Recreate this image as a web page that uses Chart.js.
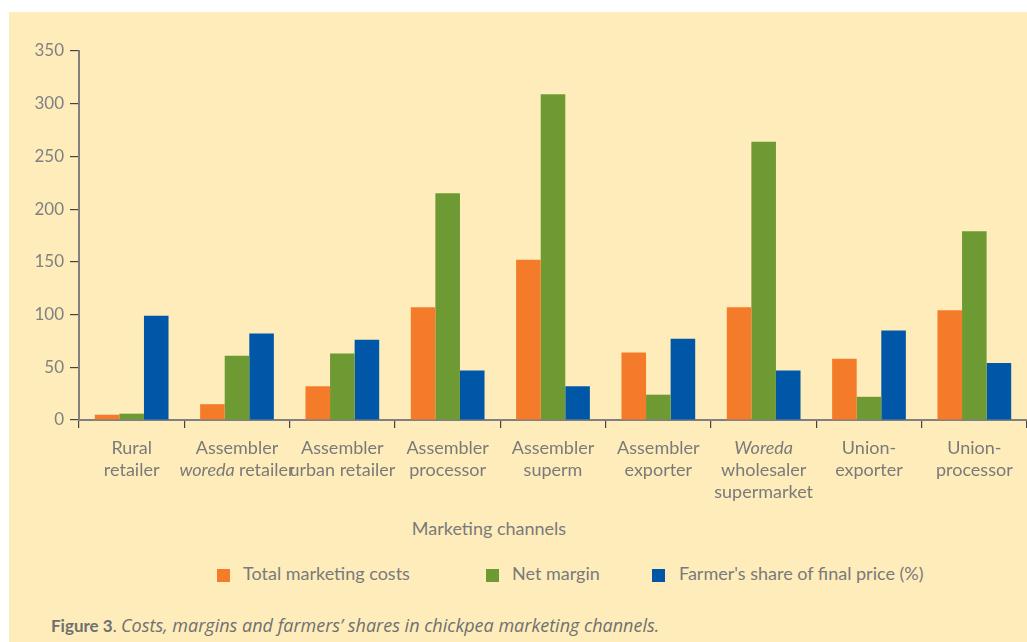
<!DOCTYPE html>
<html>
<head>
<meta charset="utf-8">
<script src="https://cdn.jsdelivr.net/npm/chart.js@4.4.1/dist/chart.umd.min.js"></script>
<style>
  html, body { margin: 0; padding: 0; background: #ffffff; }
  body { width: 1027px; height: 642px; position: relative; overflow: hidden; font-family: Lato, "Open Sans", sans-serif; }
  #wrap { position: absolute; left: 9px; top: 12px; width: 1018px; height: 630px; background: #FEEDBA; }
  #chart { position: absolute; left: 0; top: 0; }
  #xtitle { position: absolute; left: 0; width: 960px; top: 504px; text-align: center; font-size: 18px; color: #7a7a7a; line-height: 24px; }
  .lg { position: absolute; top: 549px; font-size: 18px; color: #7a7a7a; line-height: 24px; white-space: nowrap; }
  .sw { position: absolute; top: 557px; width: 13px; height: 13px; }
  #caption { position: absolute; left: 42px; top: 601px; font-size: 17px; color: #707070; line-height: 24px; white-space: nowrap; }
  #caption b { font-weight: bold; font-family: Lato, sans-serif; }
  #caption i { font-style: italic; font-family: "Open Sans", sans-serif; font-size: 18px; }
</style>
</head>
<body>
<div id="wrap">
  <canvas id="chart" width="1018" height="500"></canvas>
  <div id="xtitle">Marketing channels</div>
  <div class="sw" style="left:208px;background:#F47B2A"></div>
  <div class="lg" style="left:234px">Total marketing costs</div>
  <div class="sw" style="left:477px;background:#6E9A33"></div>
  <div class="lg" style="left:503px">Net margin</div>
  <div class="sw" style="left:643px;background:#0057A8"></div>
  <div class="lg" style="left:670px">Farmer's share of final price (%)</div>
  <div id="caption"><b>Figure 3</b>. <i>Costs, margins and farmers’ shares in chickpea marketing channels.</i></div>
</div>
<script>
// ---- data ----
const categories = [
  ["Rural", "retailer"],
  ["Assembler", "woreda retailer"],
  ["Assembler", "urban retailer"],
  ["Assembler", "processor"],
  ["Assembler", "superm"],
  ["Assembler", "exporter"],
  ["Woreda", "wholesaler", "supermarket"],
  ["Union-", "exporter"],
  ["Union-", "processor"]
];
const italicWords = ["woreda", "Woreda"];
const seriesNames = ["Total marketing costs", "Net margin", "Farmer's share of final price (%)"];
const totalMarketingCosts = [5, 15, 32, 107, 152, 64, 107, 58, 104];
const netMargin = [6, 61, 63, 215, 309, 24, 264, 22, 179];
const farmersShare = [99, 82, 76, 47, 32, 77, 47, 85, 54];
const yTicks = [0, 50, 100, 150, 200, 250, 300, 350];

const FONT = 'Lato, "Open Sans", sans-serif';
const LABEL_COLOR = '#7a7a7a';
const LABEL_SIZE = 18;

const labelPlugin = {
  id: 'richXLabels',
  afterDraw(chart) {
    const xs = chart.scales.x;
    const ctx = chart.ctx;
    ctx.save();
    ctx.fillStyle = LABEL_COLOR;
    ctx.textBaseline = 'middle';
    ctx.textAlign = 'left';
    categories.forEach((lines, i) => {
      const cx = xs.getPixelForValue(i);
      lines.forEach((line, j) => {
        const words = line.split(' ');
        const parts = words.map((w, k) => {
          const txt = (k < words.length - 1) ? w + ' ' : w;
          const it = italicWords.includes(w);
          ctx.font = (it ? 'italic ' : '') + LABEL_SIZE + 'px ' + FONT;
          return { txt, it, w: ctx.measureText(txt).width };
        });
        const total = parts.reduce((a, p) => a + p.w, 0);
        let x = cx - total / 2;
        const y = xs.top + 28 + j * 22;
        parts.forEach(p => {
          ctx.font = (p.it ? 'italic ' : '') + LABEL_SIZE + 'px ' + FONT;
          ctx.fillText(p.txt, x, y);
          x += p.w;
        });
      });
    });
    ctx.restore();
  }
};

new Chart(document.getElementById('chart'), {
  type: 'bar',
  data: {
    labels: categories,
    datasets: [
      { label: seriesNames[0], data: totalMarketingCosts, backgroundColor: '#F47B2A' },
      { label: seriesNames[1], data: netMargin, backgroundColor: '#6E9A33' },
      { label: seriesNames[2], data: farmersShare, backgroundColor: '#0057A8' }
    ]
  },
  options: {
    responsive: false,
    devicePixelRatio: 1,
    animation: false,
    datasets: { bar: { categoryPercentage: 0.7, barPercentage: 1.0 } },
    layout: { padding: { top: 39, left: 0, right: 0, bottom: 0 } },
    plugins: { legend: { display: false }, tooltip: { enabled: false } },
    scales: {
      x: {
        grid: { offset: true, drawOnChartArea: false, drawTicks: true, tickLength: 8, color: '#444444', lineWidth: 1.2 },
        border: { color: '#808080', width: 2 },
        ticks: { color: 'rgba(0,0,0,0)', font: { size: 10, family: FONT }, maxRotation: 0, autoSkip: false },
        afterFit(s) { s.height = 92; s.paddingRight = 0; s.paddingLeft = 0; }
      },
      y: {
        min: 0, max: 350,
        afterBuildTicks(s) { s.ticks = yTicks.map(v => ({ value: v })); },
        ticks: { color: '#808080', font: { size: 17, family: FONT }, padding: 6 },
        grid: { drawOnChartArea: false, drawTicks: true, tickLength: 9, color: '#444444', lineWidth: 1.2 },
        border: { color: '#808080', width: 2 },
        afterFit(s) { s.width = 70; }
      }
    }
  },
  plugins: [labelPlugin]
});
</script>
</body>
</html>
